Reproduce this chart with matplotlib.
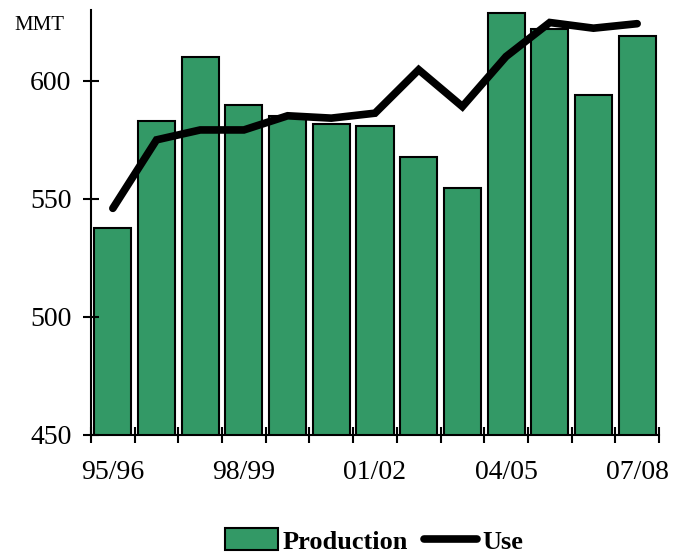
import matplotlib
matplotlib.use("Agg")
from matplotlib import pyplot as plt
import numpy as np

# marketing years and world totals (million metric tons)
years = ['95/96', '96/97', '97/98', '98/99', '99/00', '00/01', '01/02',
         '02/03', '03/04', '04/05', '05/06', '06/07', '07/08']
production = [537.8, 582.8, 610.0, 589.7, 585.3, 581.6, 580.9,
              567.9, 554.5, 628.9, 621.9, 594.1, 619.0]
use = [546.0, 575.0, 579.2, 579.2, 585.2, 584.2, 586.3,
       604.7, 589.1, 610.3, 624.7, 622.3, 624.2]
tick_years = ['95/96', '98/99', '01/02', '04/05', '07/08']

plt.rcParams['font.family'] = ['Liberation Serif', 'DejaVu Serif']

fig = plt.figure(figsize=(6.77, 5.54), dpi=100)
ax = fig.add_axes([91/677, 1 - 435/554, (659 - 91)/677, (435 - 10)/554])

x = np.arange(len(years))
bars = ax.bar(x, production, width=0.85, bottom=0, color='#339966',
              edgecolor='black', linewidth=1.5, label='Production')
line, = ax.plot(x, use, color='black', linewidth=5.5,
                solid_capstyle='round', solid_joinstyle='miter', label='Use')

ax.set_xlim(-0.5, len(years) - 0.5)
ax.set_ylim(450, 630)
ax.set_yticks([450, 500, 550, 600])

# ticks sit on category boundaries, labels every third year
ax.set_xticks(np.arange(len(years) + 1) - 0.5)
ax.set_xticklabels([])
ax.set_xticks([years.index(t) for t in tick_years], minor=True)
ax.set_xticklabels(tick_years, minor=True)
ax.tick_params(axis='x', which='minor', length=0, pad=18, labelsize=20)
ax.tick_params(axis='x', which='major', direction='inout', length=12, width=1.5)
ax.tick_params(axis='y', direction='inout', length=12, width=1.5,
               labelsize=20, pad=8)

for side in ['top', 'right']:
    ax.spines[side].set_visible(False)
for side in ['left', 'bottom']:
    ax.spines[side].set_linewidth(1.5)

fig.text(14/677, 1 - 25/554, 'MMT', fontsize=15, va='center', ha='left')

fig.legend(handles=[bars, line], loc='center', ncol=2, frameon=False,
           bbox_to_anchor=(374/677, 1 - 541/554),
           prop={'weight': 'bold', 'size': 19},
           handlelength=2.0, handleheight=0.9, handletextpad=0.2,
           columnspacing=0.6)

fig.savefig('out.png', dpi=100)
